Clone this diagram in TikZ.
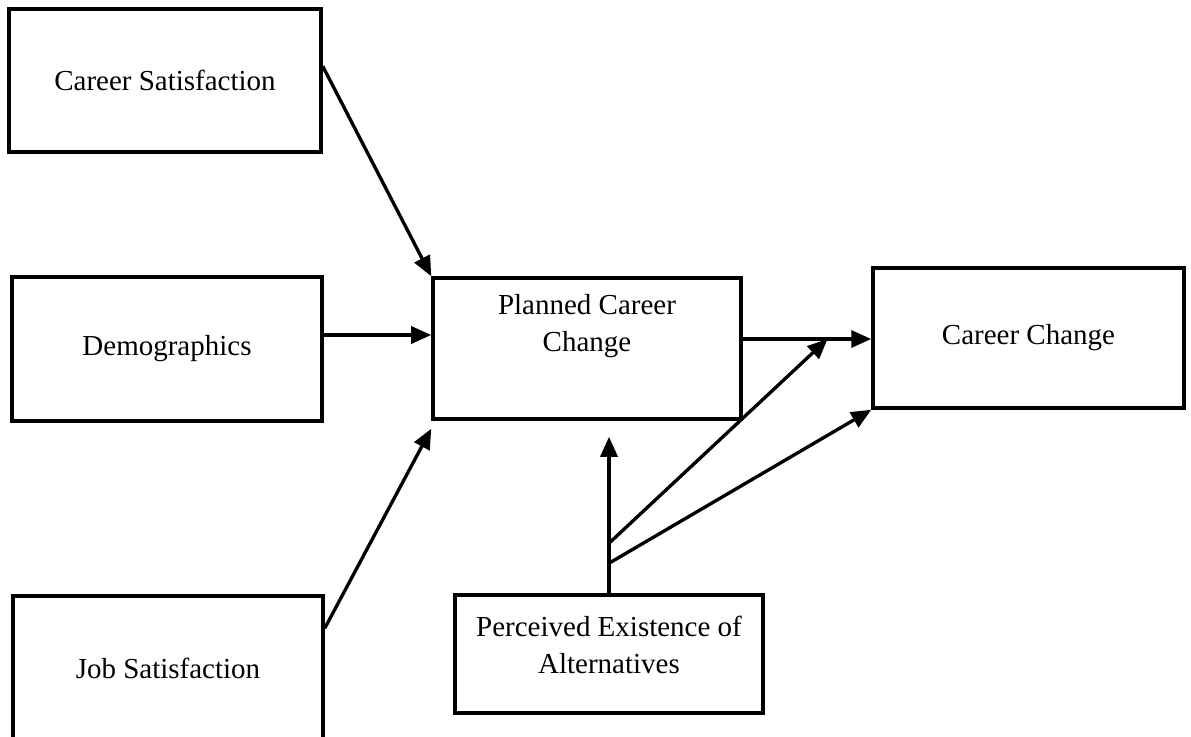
\documentclass[tikz,border=0pt]{standalone}
\usepackage{fontspec}
\setmainfont{Liberation Serif}
\usetikzlibrary{arrows.meta,calc}
\tikzset{>={Triangle[length=0.4cm,width=0.34cm]}}
\tikzset{
  factor/.style={draw, line width=2pt, inner sep=0pt, align=center,
    font=\fontsize{16.5}{21}\selectfont},
  link/.style={->, line width=1.9pt}
}

\begin{document}
\begin{tikzpicture}
        \useasboundingbox (0,0) rectangle (23.82,-14.72);

        % Predictors on the left
        \node[factor, minimum width=6.24cm, minimum height=2.86cm] (cs) at (3.30,-1.61) {Career Satisfaction};
        \node[factor, minimum width=6.20cm, minimum height=2.88cm] (dem) at (3.34,-6.98) {Demographics};
        \node[factor, minimum width=6.20cm, minimum height=2.90cm] (job) at (3.36,-13.37) {Job Satisfaction};

        % Planned change and outcome
        \node[factor, minimum width=6.16cm, minimum height=2.82cm] (pcc) at (11.74,-6.97) {};
        \node[factor, draw=none] (pcctext) at ([yshift=0.45cm]pcc.center) {Planned Career\\Change};
        \node[factor, minimum width=6.22cm, minimum height=2.80cm] (cc) at (20.57,-6.76) {Career Change};

        % Moderator below
        \node[factor, minimum width=6.16cm, minimum height=2.36cm] (pea) at (12.18,-13.08) {};
        \node[factor, draw=none] (peatext) at ([yshift=0.19cm]pea.center) {Perceived Existence of\\Alternatives};

        % Points on the connectors
        \coordinate (pccout) at ([yshift=0.19cm]pcc.east);
        \coordinate (ccin) at (cc.west |- pccout);
        \coordinate (mid) at ($(pccout)!0.66!(ccin)$);
        \coordinate (fork1) at ([yshift=1.0cm]pea.north);
        \coordinate (fork2) at ([yshift=0.6cm]pea.north);

        % Arrows into planned career change
        \draw[link] ([yshift=-1.18cm]cs.north east) -- (pcc.north west);
        \draw[link] ([yshift=0.28cm]dem.east) -- ([yshift=0.28cm]dem.east -| pcc.west);
        \draw[link] ([yshift=-0.68cm]job.north east) -- ([yshift=-0.16cm]pcc.south west);

        % Planned change to career change
        \draw[link] (pccout) -- (ccin);

        % Moderator arrows
        \draw[link] (pea.north) -- ([yshift=-0.32cm]pea.north |- pcc.south);
        \draw[link] (fork1) -- (mid);
        \draw[link] (fork2) -- (cc.south west);
\end{tikzpicture}
\end{document}
